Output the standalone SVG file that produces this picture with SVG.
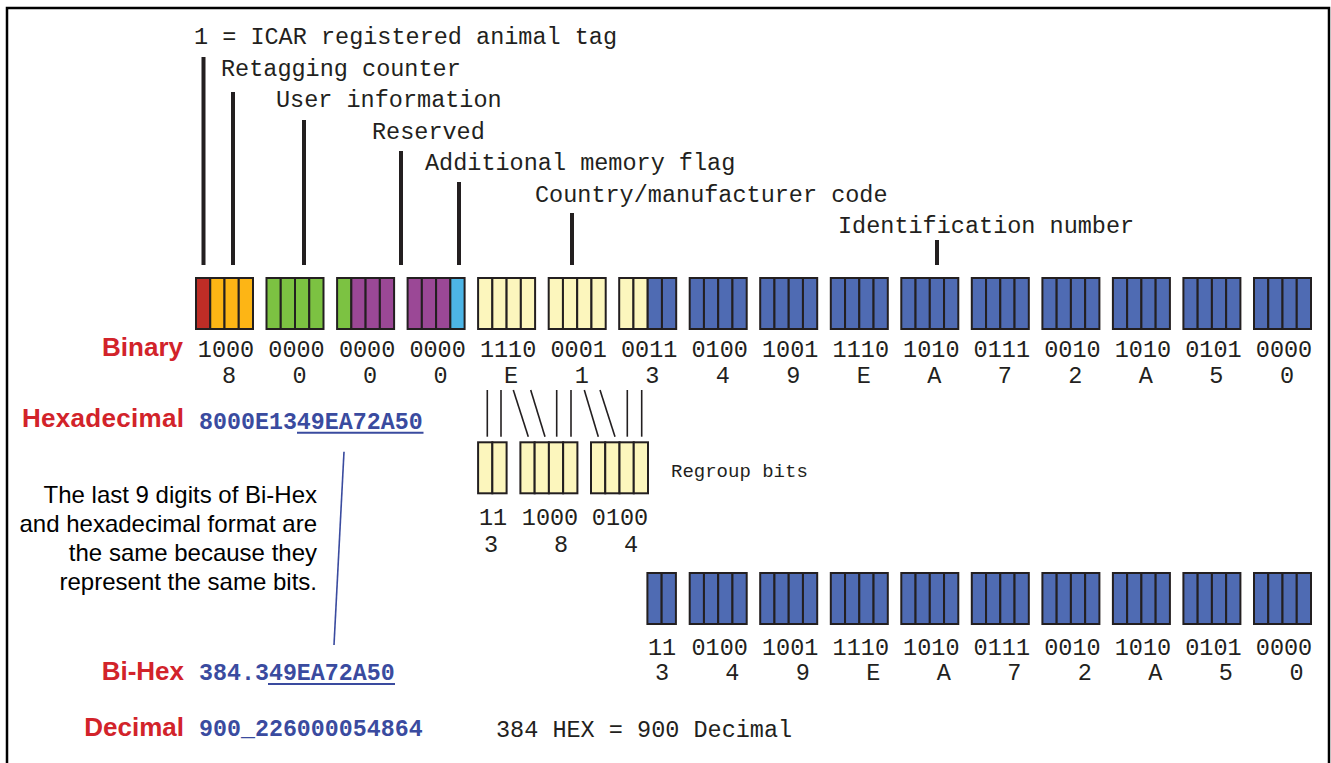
<svg xmlns="http://www.w3.org/2000/svg" width="1331" height="763" viewBox="0 0 1331 763">
  <style>
    .bit { stroke: #231f20; stroke-width: 2; }
    .r { fill: #be2d26; } .o { fill: #fdb515; } .g { fill: #7cc242; } .p { fill: #9b4896; }
    .c { fill: #4db5e6; } .y { fill: #fcf6bd; } .b { fill: #4f6bb3; }
    .mono { font-family: "Liberation Mono", "Courier New", monospace; font-size: 23.5px; fill: #231f20; }
    .mid { text-anchor: middle; }
    .small { font-size: 19px; }
    .lbl { font-family: "Liberation Sans", Arial, sans-serif; font-weight: bold; font-size: 26px; fill: #d2232a; text-anchor: end; }
    .val { font-family: "Liberation Mono", "Courier New", monospace; font-weight: bold; font-size: 23.3px; fill: #3a4b9f; }
    .note { font-family: "Liberation Sans", Arial, sans-serif; font-size: 24px; fill: #000; text-anchor: end; }
    .ptr { stroke: #231f20; stroke-width: 4; }
    .thin { stroke: #231f20; stroke-width: 1.6; fill: none; }
    .uline { stroke: #3a4b9f; stroke-width: 2; }
  </style>

  <!-- frame -->
  <path d="M7,763 V8 H1329 V763" fill="none" stroke="#000" stroke-width="2.5"/>

  <!-- field labels -->
  <g id="field-labels" class="mono">
    <text x="194" y="44.3">1 = ICAR registered animal tag</text>
    <text x="221" y="75.8">Retagging counter</text>
    <text x="276" y="107.3">User information</text>
    <text x="372" y="138.8">Reserved</text>
    <text x="425" y="170.3">Additional memory flag</text>
    <text x="535" y="201.8">Country/manufacturer code</text>
    <text x="838" y="233.3">Identification number</text>
  </g>

  <!-- connectors -->
  <g id="connectors">
    <line class="ptr" x1="203.5" y1="57" x2="203.5" y2="265"/>
    <line class="ptr" x1="233" y1="92" x2="233" y2="265"/>
    <line class="ptr" x1="304" y1="120" x2="304" y2="265"/>
    <line class="ptr" x1="401" y1="151" x2="401" y2="265"/>
    <line class="ptr" x1="459" y1="182" x2="459" y2="265"/>
    <line class="ptr" x1="572" y1="213" x2="572" y2="265"/>
    <line class="ptr" x1="937" y1="240" x2="937" y2="265"/>
    <!-- regroup links -->
    <line class="thin" x1="487.3" y1="390" x2="487.3" y2="436.7"/>
    <line class="thin" x1="501" y1="390" x2="501" y2="436.7"/>
    <line class="thin" x1="513.3" y1="390" x2="528.3" y2="436.7"/>
    <line class="thin" x1="530.7" y1="390" x2="545" y2="436.7"/>
    <line class="thin" x1="556.7" y1="390" x2="556.7" y2="436.7"/>
    <line class="thin" x1="571" y1="390" x2="571" y2="436.7"/>
    <line class="thin" x1="584.3" y1="390" x2="598.3" y2="436.7"/>
    <line class="thin" x1="600" y1="390" x2="615" y2="436.7"/>
    <line class="thin" x1="627.3" y1="390" x2="627.3" y2="436.7"/>
    <line class="thin" x1="641.7" y1="390" x2="641.7" y2="436.7"/>
    <!-- note link -->
    <line x1="344" y1="451.7" x2="334" y2="645" stroke="#3a4b9f" stroke-width="1.6"/>
  </g>

  <!-- binary bit groups -->
  <g id="binary-row">
    <g id="grp0" transform="translate(196,278)"><rect class="bit r" x="0" width="14.25" height="51"/><rect class="bit o" x="14.25" width="14.25" height="51"/><rect class="bit o" x="28.5" width="14.25" height="51"/><rect class="bit o" x="42.75" width="14.25" height="51"/></g>
    <g id="grp1" transform="translate(266.5,278)"><rect class="bit g" x="0" width="14.25" height="51"/><rect class="bit g" x="14.25" width="14.25" height="51"/><rect class="bit g" x="28.5" width="14.25" height="51"/><rect class="bit g" x="42.75" width="14.25" height="51"/></g>
    <g id="grp2" transform="translate(337.1,278)"><rect class="bit g" x="0" width="14.25" height="51"/><rect class="bit p" x="14.25" width="14.25" height="51"/><rect class="bit p" x="28.5" width="14.25" height="51"/><rect class="bit p" x="42.75" width="14.25" height="51"/></g>
    <g id="grp3" transform="translate(407.6,278)"><rect class="bit p" x="0" width="14.25" height="51"/><rect class="bit p" x="14.25" width="14.25" height="51"/><rect class="bit p" x="28.5" width="14.25" height="51"/><rect class="bit c" x="42.75" width="14.25" height="51"/></g>
    <g id="grp4" transform="translate(478.1,278)"><rect class="bit y" x="0" width="14.25" height="51"/><rect class="bit y" x="14.25" width="14.25" height="51"/><rect class="bit y" x="28.5" width="14.25" height="51"/><rect class="bit y" x="42.75" width="14.25" height="51"/></g>
    <g id="grp5" transform="translate(548.7,278)"><rect class="bit y" x="0" width="14.25" height="51"/><rect class="bit y" x="14.25" width="14.25" height="51"/><rect class="bit y" x="28.5" width="14.25" height="51"/><rect class="bit y" x="42.75" width="14.25" height="51"/></g>
    <g id="grp6" transform="translate(619.2,278)"><rect class="bit y" x="0" width="14.25" height="51"/><rect class="bit y" x="14.25" width="14.25" height="51"/><rect class="bit b" x="28.5" width="14.25" height="51"/><rect class="bit b" x="42.75" width="14.25" height="51"/></g>
    <g id="grp7" transform="translate(689.7,278)"><rect class="bit b" x="0" width="14.25" height="51"/><rect class="bit b" x="14.25" width="14.25" height="51"/><rect class="bit b" x="28.5" width="14.25" height="51"/><rect class="bit b" x="42.75" width="14.25" height="51"/></g>
    <g id="grp8" transform="translate(760.2,278)"><rect class="bit b" x="0" width="14.25" height="51"/><rect class="bit b" x="14.25" width="14.25" height="51"/><rect class="bit b" x="28.5" width="14.25" height="51"/><rect class="bit b" x="42.75" width="14.25" height="51"/></g>
    <g id="grp9" transform="translate(830.8,278)"><rect class="bit b" x="0" width="14.25" height="51"/><rect class="bit b" x="14.25" width="14.25" height="51"/><rect class="bit b" x="28.5" width="14.25" height="51"/><rect class="bit b" x="42.75" width="14.25" height="51"/></g>
    <g id="grp10" transform="translate(901.3,278)"><rect class="bit b" x="0" width="14.25" height="51"/><rect class="bit b" x="14.25" width="14.25" height="51"/><rect class="bit b" x="28.5" width="14.25" height="51"/><rect class="bit b" x="42.75" width="14.25" height="51"/></g>
    <g id="grp11" transform="translate(971.8,278)"><rect class="bit b" x="0" width="14.25" height="51"/><rect class="bit b" x="14.25" width="14.25" height="51"/><rect class="bit b" x="28.5" width="14.25" height="51"/><rect class="bit b" x="42.75" width="14.25" height="51"/></g>
    <g id="grp12" transform="translate(1042.4,278)"><rect class="bit b" x="0" width="14.25" height="51"/><rect class="bit b" x="14.25" width="14.25" height="51"/><rect class="bit b" x="28.5" width="14.25" height="51"/><rect class="bit b" x="42.75" width="14.25" height="51"/></g>
    <g id="grp13" transform="translate(1112.9,278)"><rect class="bit b" x="0" width="14.25" height="51"/><rect class="bit b" x="14.25" width="14.25" height="51"/><rect class="bit b" x="28.5" width="14.25" height="51"/><rect class="bit b" x="42.75" width="14.25" height="51"/></g>
    <g id="grp14" transform="translate(1183.4,278)"><rect class="bit b" x="0" width="14.25" height="51"/><rect class="bit b" x="14.25" width="14.25" height="51"/><rect class="bit b" x="28.5" width="14.25" height="51"/><rect class="bit b" x="42.75" width="14.25" height="51"/></g>
    <g id="grp15" transform="translate(1254,278)"><rect class="bit b" x="0" width="14.25" height="51"/><rect class="bit b" x="14.25" width="14.25" height="51"/><rect class="bit b" x="28.5" width="14.25" height="51"/><rect class="bit b" x="42.75" width="14.25" height="51"/></g>
  </g>

  <!-- binary / hex digits under the groups -->
  <g id="binary-digits" class="mono mid">
    <text x="226" y="357">1000</text><text x="296.5" y="357">0000</text><text x="367.1" y="357">0000</text><text x="437.6" y="357">0000</text>
    <text x="508.1" y="357">1110</text><text x="578.7" y="357">0001</text><text x="649.2" y="357">0011</text><text x="719.7" y="357">0100</text>
    <text x="790.2" y="357">1001</text><text x="860.8" y="357">1110</text><text x="931.3" y="357">1010</text><text x="1001.8" y="357">0111</text>
    <text x="1072.4" y="357">0010</text><text x="1142.9" y="357">1010</text><text x="1213.4" y="357">0101</text><text x="1284" y="357">0000</text>
    <text x="229" y="383">8</text><text x="299.5" y="383">0</text><text x="370.1" y="383">0</text><text x="440.6" y="383">0</text>
    <text x="511.1" y="383">E</text><text x="581.7" y="383">1</text><text x="652.2" y="383">3</text><text x="722.7" y="383">4</text>
    <text x="793.2" y="383">9</text><text x="863.8" y="383">E</text><text x="934.3" y="383">A</text><text x="1004.8" y="383">7</text>
    <text x="1075.4" y="383">2</text><text x="1145.9" y="383">A</text><text x="1216.4" y="383">5</text><text x="1287" y="383">0</text>
  </g>

  <!-- regrouped bits -->
  <g id="regroup">
    <g id="rg0" transform="translate(478.1,442.3)"><rect class="bit y" x="0" width="14.25" height="51"/><rect class="bit y" x="14.25" width="14.25" height="51"/></g>
    <g id="rg1" transform="translate(520.4,442.3)"><rect class="bit y" x="0" width="14.25" height="51"/><rect class="bit y" x="14.25" width="14.25" height="51"/><rect class="bit y" x="28.5" width="14.25" height="51"/><rect class="bit y" x="42.75" width="14.25" height="51"/></g>
    <g id="rg2" transform="translate(591,442.3)"><rect class="bit y" x="0" width="14.25" height="51"/><rect class="bit y" x="14.25" width="14.25" height="51"/><rect class="bit y" x="28.5" width="14.25" height="51"/><rect class="bit y" x="42.75" width="14.25" height="51"/></g>
    <text class="mono small" x="671" y="477">Regroup bits</text>
    <g class="mono mid">
      <text x="493" y="525">11</text><text x="550" y="525">1000</text><text x="620" y="525">0100</text>
      <text x="491" y="551.5">3</text><text x="561" y="551.5">8</text><text x="631" y="551.5">4</text>
    </g>
  </g>

  <!-- Bi-Hex bit groups -->
  <g id="bihex-row">
    <g id="bh0" transform="translate(647.4,573)"><rect class="bit b" x="0" width="14.25" height="51"/><rect class="bit b" x="14.25" width="14.25" height="51"/></g>
    <g id="bh1" transform="translate(689.7,573)"><rect class="bit b" x="0" width="14.25" height="51"/><rect class="bit b" x="14.25" width="14.25" height="51"/><rect class="bit b" x="28.5" width="14.25" height="51"/><rect class="bit b" x="42.75" width="14.25" height="51"/></g>
    <g id="bh2" transform="translate(760.2,573)"><rect class="bit b" x="0" width="14.25" height="51"/><rect class="bit b" x="14.25" width="14.25" height="51"/><rect class="bit b" x="28.5" width="14.25" height="51"/><rect class="bit b" x="42.75" width="14.25" height="51"/></g>
    <g id="bh3" transform="translate(830.8,573)"><rect class="bit b" x="0" width="14.25" height="51"/><rect class="bit b" x="14.25" width="14.25" height="51"/><rect class="bit b" x="28.5" width="14.25" height="51"/><rect class="bit b" x="42.75" width="14.25" height="51"/></g>
    <g id="bh4" transform="translate(901.3,573)"><rect class="bit b" x="0" width="14.25" height="51"/><rect class="bit b" x="14.25" width="14.25" height="51"/><rect class="bit b" x="28.5" width="14.25" height="51"/><rect class="bit b" x="42.75" width="14.25" height="51"/></g>
    <g id="bh5" transform="translate(971.8,573)"><rect class="bit b" x="0" width="14.25" height="51"/><rect class="bit b" x="14.25" width="14.25" height="51"/><rect class="bit b" x="28.5" width="14.25" height="51"/><rect class="bit b" x="42.75" width="14.25" height="51"/></g>
    <g id="bh6" transform="translate(1042.4,573)"><rect class="bit b" x="0" width="14.25" height="51"/><rect class="bit b" x="14.25" width="14.25" height="51"/><rect class="bit b" x="28.5" width="14.25" height="51"/><rect class="bit b" x="42.75" width="14.25" height="51"/></g>
    <g id="bh7" transform="translate(1112.9,573)"><rect class="bit b" x="0" width="14.25" height="51"/><rect class="bit b" x="14.25" width="14.25" height="51"/><rect class="bit b" x="28.5" width="14.25" height="51"/><rect class="bit b" x="42.75" width="14.25" height="51"/></g>
    <g id="bh8" transform="translate(1183.4,573)"><rect class="bit b" x="0" width="14.25" height="51"/><rect class="bit b" x="14.25" width="14.25" height="51"/><rect class="bit b" x="28.5" width="14.25" height="51"/><rect class="bit b" x="42.75" width="14.25" height="51"/></g>
    <g id="bh9" transform="translate(1254,573)"><rect class="bit b" x="0" width="14.25" height="51"/><rect class="bit b" x="14.25" width="14.25" height="51"/><rect class="bit b" x="28.5" width="14.25" height="51"/><rect class="bit b" x="42.75" width="14.25" height="51"/></g>
    <g class="mono mid">
      <text x="662" y="655">11</text><text x="719.7" y="655">0100</text><text x="790.2" y="655">1001</text><text x="860.8" y="655">1110</text>
      <text x="931.3" y="655">1010</text><text x="1001.8" y="655">0111</text><text x="1072.4" y="655">0010</text><text x="1142.9" y="655">1010</text>
      <text x="1213.4" y="655">0101</text><text x="1284" y="655">0000</text>
      <text x="662" y="680">3</text><text x="732.2" y="680">4</text><text x="802.7" y="680">9</text><text x="873.3" y="680">E</text>
      <text x="943.8" y="680">A</text><text x="1014.3" y="680">7</text><text x="1084.9" y="680">2</text><text x="1155.4" y="680">A</text>
      <text x="1225.9" y="680">5</text><text x="1296.5" y="680">0</text>
    </g>
  </g>

  <!-- format labels and values -->
  <g id="formats">
    <text class="lbl" x="183" y="356">Binary</text>
    <text class="lbl" x="184" y="426.7" textLength="162" lengthAdjust="spacing">Hexadecimal</text>
    <text class="lbl" x="184" y="680">Bi-Hex</text>
    <text class="lbl" x="184" y="735.7">Decimal</text>
    <text class="val" x="199" y="429.3">8000E1349EA72A50</text>
    <line class="uline" x1="297" y1="432.8" x2="423.5" y2="432.8"/>
    <text class="val" x="199" y="680">384.349EA72A50</text>
    <line class="uline" x1="268" y1="684" x2="395" y2="684"/>
    <text class="val" x="199" y="735.7">900_226000054864</text>
    <text class="mono" x="496" y="737">384 HEX = 900 Decimal</text>
  </g>

  <!-- explanatory note -->
  <g id="note" class="note">
    <text x="317" y="502.5">The last 9 digits of Bi-Hex</text>
    <text x="317" y="531.7">and hexadecimal format are</text>
    <text x="317" y="560.7">the same because they</text>
    <text x="317" y="590">represent the same bits.</text>
  </g>
</svg>
